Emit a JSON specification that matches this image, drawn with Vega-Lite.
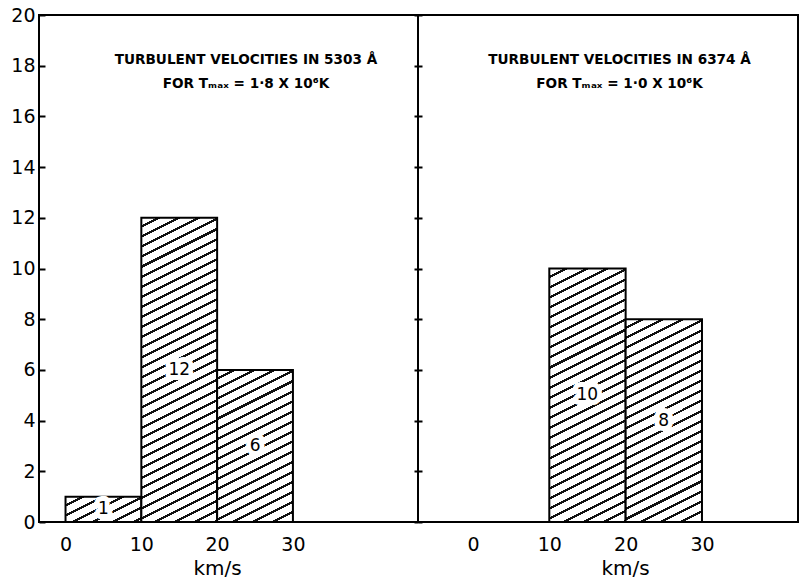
{
  "$schema": "https://vega.github.io/schema/vega-lite/v6.json",
  "padding": {"left": 9, "top": 5, "right": 0, "bottom": 0},
  "background": "white",
  "bounds": "flush",
  "spacing": 0,
  "params": [
    {"name": "hatch", "value": [
      {"offset":0,"color":"#fff"},{"offset":0.0208,"color":"#fff"},{"offset":0.0208,"color":"#111"},{"offset":0.0278,"color":"#111"},
      {"offset":0.0278,"color":"#fff"},{"offset":0.0486,"color":"#fff"},{"offset":0.0486,"color":"#111"},{"offset":0.0556,"color":"#111"},
      {"offset":0.0556,"color":"#fff"},{"offset":0.0764,"color":"#fff"},{"offset":0.0764,"color":"#111"},{"offset":0.0833,"color":"#111"},
      {"offset":0.0833,"color":"#fff"},{"offset":0.1042,"color":"#fff"},{"offset":0.1042,"color":"#111"},{"offset":0.1111,"color":"#111"},
      {"offset":0.1111,"color":"#fff"},{"offset":0.1319,"color":"#fff"},{"offset":0.1319,"color":"#111"},{"offset":0.1389,"color":"#111"},
      {"offset":0.1389,"color":"#fff"},{"offset":0.1597,"color":"#fff"},{"offset":0.1597,"color":"#111"},{"offset":0.1667,"color":"#111"},
      {"offset":0.1667,"color":"#fff"},{"offset":0.1875,"color":"#fff"},{"offset":0.1875,"color":"#111"},{"offset":0.1944,"color":"#111"},
      {"offset":0.1944,"color":"#fff"},{"offset":0.2153,"color":"#fff"},{"offset":0.2153,"color":"#111"},{"offset":0.2222,"color":"#111"},
      {"offset":0.2222,"color":"#fff"},{"offset":0.2431,"color":"#fff"},{"offset":0.2431,"color":"#111"},{"offset":0.25,"color":"#111"},
      {"offset":0.25,"color":"#fff"},{"offset":0.2708,"color":"#fff"},{"offset":0.2708,"color":"#111"},{"offset":0.2778,"color":"#111"},
      {"offset":0.2778,"color":"#fff"},{"offset":0.2986,"color":"#fff"},{"offset":0.2986,"color":"#111"},{"offset":0.3056,"color":"#111"},
      {"offset":0.3056,"color":"#fff"},{"offset":0.3264,"color":"#fff"},{"offset":0.3264,"color":"#111"},{"offset":0.3333,"color":"#111"},
      {"offset":0.3333,"color":"#fff"},{"offset":0.3542,"color":"#fff"},{"offset":0.3542,"color":"#111"},{"offset":0.3611,"color":"#111"},
      {"offset":0.3611,"color":"#fff"},{"offset":0.3819,"color":"#fff"},{"offset":0.3819,"color":"#111"},{"offset":0.3889,"color":"#111"},
      {"offset":0.3889,"color":"#fff"},{"offset":0.4097,"color":"#fff"},{"offset":0.4097,"color":"#111"},{"offset":0.4167,"color":"#111"},
      {"offset":0.4167,"color":"#fff"},{"offset":0.4375,"color":"#fff"},{"offset":0.4375,"color":"#111"},{"offset":0.4444,"color":"#111"},
      {"offset":0.4444,"color":"#fff"},{"offset":0.4653,"color":"#fff"},{"offset":0.4653,"color":"#111"},{"offset":0.4722,"color":"#111"},
      {"offset":0.4722,"color":"#fff"},{"offset":0.4931,"color":"#fff"},{"offset":0.4931,"color":"#111"},{"offset":0.5,"color":"#111"},
      {"offset":0.5,"color":"#fff"},{"offset":0.5208,"color":"#fff"},{"offset":0.5208,"color":"#111"},{"offset":0.5278,"color":"#111"},
      {"offset":0.5278,"color":"#fff"},{"offset":0.5486,"color":"#fff"},{"offset":0.5486,"color":"#111"},{"offset":0.5556,"color":"#111"},
      {"offset":0.5556,"color":"#fff"},{"offset":0.5764,"color":"#fff"},{"offset":0.5764,"color":"#111"},{"offset":0.5833,"color":"#111"},
      {"offset":0.5833,"color":"#fff"},{"offset":0.6042,"color":"#fff"},{"offset":0.6042,"color":"#111"},{"offset":0.6111,"color":"#111"},
      {"offset":0.6111,"color":"#fff"},{"offset":0.6319,"color":"#fff"},{"offset":0.6319,"color":"#111"},{"offset":0.6389,"color":"#111"},
      {"offset":0.6389,"color":"#fff"},{"offset":0.6597,"color":"#fff"},{"offset":0.6597,"color":"#111"},{"offset":0.6667,"color":"#111"},
      {"offset":0.6667,"color":"#fff"},{"offset":0.6875,"color":"#fff"},{"offset":0.6875,"color":"#111"},{"offset":0.6944,"color":"#111"},
      {"offset":0.6944,"color":"#fff"},{"offset":0.7153,"color":"#fff"},{"offset":0.7153,"color":"#111"},{"offset":0.7222,"color":"#111"},
      {"offset":0.7222,"color":"#fff"},{"offset":0.7431,"color":"#fff"},{"offset":0.7431,"color":"#111"},{"offset":0.75,"color":"#111"},
      {"offset":0.75,"color":"#fff"},{"offset":0.7708,"color":"#fff"},{"offset":0.7708,"color":"#111"},{"offset":0.7778,"color":"#111"},
      {"offset":0.7778,"color":"#fff"},{"offset":0.7986,"color":"#fff"},{"offset":0.7986,"color":"#111"},{"offset":0.8056,"color":"#111"},
      {"offset":0.8056,"color":"#fff"},{"offset":0.8264,"color":"#fff"},{"offset":0.8264,"color":"#111"},{"offset":0.8333,"color":"#111"},
      {"offset":0.8333,"color":"#fff"},{"offset":0.8542,"color":"#fff"},{"offset":0.8542,"color":"#111"},{"offset":0.8611,"color":"#111"},
      {"offset":0.8611,"color":"#fff"},{"offset":0.8819,"color":"#fff"},{"offset":0.8819,"color":"#111"},{"offset":0.8889,"color":"#111"},
      {"offset":0.8889,"color":"#fff"},{"offset":0.9097,"color":"#fff"},{"offset":0.9097,"color":"#111"},{"offset":0.9167,"color":"#111"},
      {"offset":0.9167,"color":"#fff"},{"offset":0.9375,"color":"#fff"},{"offset":0.9375,"color":"#111"},{"offset":0.9444,"color":"#111"},
      {"offset":0.9444,"color":"#fff"},{"offset":0.9653,"color":"#fff"},{"offset":0.9653,"color":"#111"},{"offset":0.9722,"color":"#111"},
      {"offset":0.9722,"color":"#fff"},{"offset":0.9931,"color":"#fff"},{"offset":0.9931,"color":"#111"},{"offset":1,"color":"#111"}
    ]}
  ],
  "datasets": {
    "bars": [
      {"panel": "5303", "lo": 0, "hi": 10, "count": 1},
      {"panel": "5303", "lo": 10, "hi": 20, "count": 12},
      {"panel": "5303", "lo": 20, "hi": 30, "count": 6},
      {"panel": "6374", "lo": 10, "hi": 20, "count": 10},
      {"panel": "6374", "lo": 20, "hi": 30, "count": 8}
    ]
  },
  "config": {
    "font": "DejaVu Sans",
    "view": {"stroke": "black", "strokeWidth": 2},
    "axis": {
      "grid": false,
      "domainColor": "black", "domainWidth": 2,
      "tickColor": "black", "tickWidth": 2,
      "labelColor": "black", "labelFont": "DejaVu Sans", "labelFontSize": 19,
      "titleColor": "black", "titleFont": "DejaVu Sans", "titleFontSize": 20, "titleFontWeight": "normal"
    }
  },
  "hconcat": [
    {
      "width": 379,
      "height": 507,
      "resolve": {"scale": {"y": "independent"}, "axis": {"y": "independent"}},
      "layer": [
        {
          "data": {"name": "bars"},
          "transform": [{"filter": "datum.panel == '5303'"}],
          "mark": {"type": "rect", "stroke": "black", "strokeWidth": 2},
          "encoding": {
            "x": {"field": "lo", "type": "quantitative",
                  "scale": {"domain": [-3.5, 46.5], "nice": false, "zero": false},
                  "axis": {"values": [0, 10, 20, 30], "ticks": false, "domain": false, "labelPadding": 13, "title": "km/s", "titleX": 178, "titlePadding": 4}},
            "x2": {"field": "hi"},
            "y": {"field": "count", "type": "quantitative",
                  "scale": {"domain": [0, 20], "nice": false},
                  "axis": {"values": [0, 2, 4, 6, 8, 10, 12, 14, 16, 18, 20], "title": null, "domain": false, "tickSize": -6, "labelPadding": 10}},
            "y2": {"datum": 0},
            "fill": {
              "condition": [
                {"test": "datum.count == 1", "value": {"expr": "{gradient: 'linear', x1: 0, y1: 0, x2: 6.6036, y2: 4.417, stops: hatch}"}},
                {"test": "datum.count == 12", "value": {"expr": "{gradient: 'linear', x1: 0, y1: 0, x2: 0.14609, y2: 1.1726, stops: hatch}"}}
              ],
              "value": {"expr": "{gradient: 'linear', x1: 0, y1: 0, x2: 0.55876, y2: 2.24241, stops: hatch}"}
            }
          }
        },
        {
          "data": {"name": "bars"},
          "transform": [{"filter": "datum.panel == '5303'"}],
          "mark": {"type": "text", "fontSize": 17, "dx": 38, "fill": "white", "stroke": "white", "strokeWidth": 10, "strokeJoin": "round"},
          "encoding": {
            "x": {"field": "lo", "type": "quantitative"},
            "y": {"field": "count", "type": "quantitative", "scale": {"domain": [0, 40], "nice": false}, "axis": null},
            "text": {"field": "count", "type": "quantitative"}
          }
        },
        {
          "data": {"name": "bars"},
          "transform": [{"filter": "datum.panel == '5303'"}],
          "mark": {"type": "text", "fontSize": 17, "dx": 38, "fill": "black"},
          "encoding": {
            "x": {"field": "lo", "type": "quantitative"},
            "y": {"field": "count", "type": "quantitative", "scale": {"domain": [0, 40], "nice": false}, "axis": null},
            "text": {"field": "count", "type": "quantitative"}
          }
        },
        {
          "data": {"values": [{"panel": "5303"}]},
          "mark": {"type": "text", "fontSize": 13.6, "fontWeight": "bold", "lineHeight": 24, "baseline": "alphabetic", "align": "center", "fill": "black"},
          "encoding": {
            "x": {"datum": 23.8, "type": "quantitative"},
            "y": {"datum": 18.07, "type": "quantitative", "scale": {"domain": [0, 20], "nice": false},
                  "axis": {"orient": "right", "values": [0, 2, 4, 6, 8, 10, 12, 14, 16, 18, 20], "labels": false, "domain": false, "tickSize": 4, "title": null}},
            "text": {"value": ["TURBULENT  VELOCITIES  IN  5303 Å", "FOR   Tₘₐₓ = 1·8  X  10⁶K"]}
          }
        }
      ]
    },
    {
      "width": 380,
      "height": 507,
      "resolve": {"scale": {"y": "independent"}, "axis": {"y": "independent"}},
      "layer": [
        {
          "data": {"name": "bars"},
          "transform": [{"filter": "datum.panel == '6374'"}],
          "mark": {"type": "rect", "stroke": "black", "strokeWidth": 2},
          "encoding": {
            "x": {"field": "lo", "type": "quantitative",
                  "scale": {"domain": [-7.2, 42.58], "nice": false, "zero": false},
                  "axis": {"values": [0, 10, 20, 30], "ticks": false, "domain": false, "labelPadding": 13, "title": "km/s", "titleX": 207, "titlePadding": 4}},
            "x2": {"field": "hi"},
            "y": {"field": "count", "type": "quantitative",
                  "scale": {"domain": [0, 20], "nice": false},
                  "axis": {"values": [0, 2, 4, 6, 8, 10, 12, 14, 16, 18, 20], "title": null, "domain": false, "labels": false, "tickSize": 4}},
            "y2": {"datum": 0},
            "fill": {
              "condition": [
                {"test": "datum.count == 10", "value": {"expr": "{gradient: 'linear', x1: 0, y1: 0, x2: 0.21039, y2: 1.39729, stops: hatch}"}}
              ],
              "value": {"expr": "{gradient: 'linear', x1: 0, y1: 0, x2: 0.32469, y2: 1.72508, stops: hatch}"}
            }
          }
        },
        {
          "data": {"name": "bars"},
          "transform": [{"filter": "datum.panel == '6374'"}],
          "mark": {"type": "text", "fontSize": 17, "dx": 38, "fill": "white", "stroke": "white", "strokeWidth": 10, "strokeJoin": "round"},
          "encoding": {
            "x": {"field": "lo", "type": "quantitative"},
            "y": {"field": "count", "type": "quantitative", "scale": {"domain": [0, 40], "nice": false}, "axis": null},
            "text": {"field": "count", "type": "quantitative"}
          }
        },
        {
          "data": {"name": "bars"},
          "transform": [{"filter": "datum.panel == '6374'"}],
          "mark": {"type": "text", "fontSize": 17, "dx": 38, "fill": "black"},
          "encoding": {
            "x": {"field": "lo", "type": "quantitative"},
            "y": {"field": "count", "type": "quantitative", "scale": {"domain": [0, 40], "nice": false}, "axis": null},
            "text": {"field": "count", "type": "quantitative"}
          }
        },
        {
          "data": {"values": [{"panel": "6374"}]},
          "mark": {"type": "text", "fontSize": 13.6, "fontWeight": "bold", "lineHeight": 24, "baseline": "alphabetic", "align": "center", "fill": "black"},
          "encoding": {
            "x": {"datum": 19.2, "type": "quantitative"},
            "y": {"datum": 18.07, "type": "quantitative", "scale": {"domain": [0, 20], "nice": false}, "axis": null},
            "text": {"value": ["TURBULENT  VELOCITIES  IN  6374  Å", "FOR   Tₘₐₓ = 1·0  X  10⁶K"]}
          }
        }
      ]
    }
  ]
}
